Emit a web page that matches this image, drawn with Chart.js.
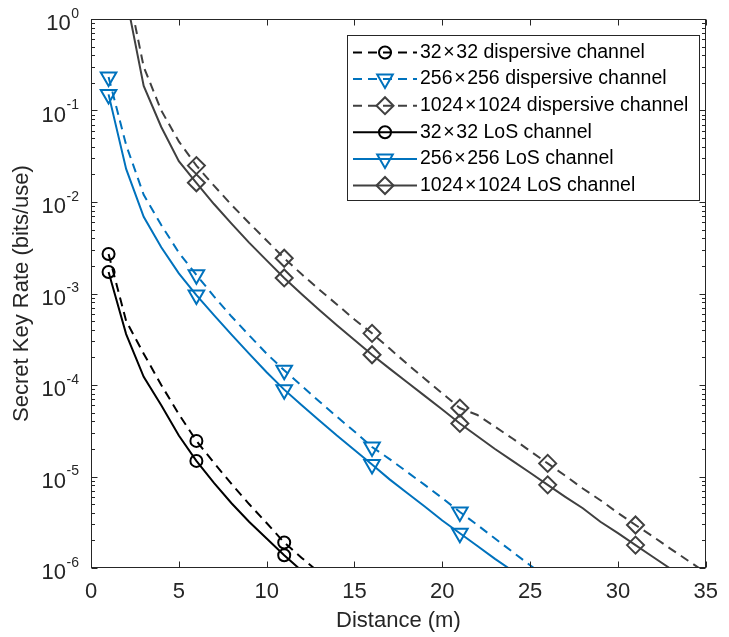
<!DOCTYPE html>
<html lang="en">
<head>
<meta charset="UTF-8">
<title>Secret Key Rate vs Distance</title>
<script src="https://cdn.jsdelivr.net/npm/chart.js@4"></script>
<style>
    body { margin: 0; background: #fff; }
    canvas { display: block; }
</style>
</head>
<body>
<canvas id="myChart" width="729" height="637"></canvas>
<script>
// curves are sampled every 1 m, starting at these distances
var start32 = 1, start256 = 1, start1024 = 2;

var disp32 = [2.7e-3, 5.0e-4, 2.2e-4, 1.0e-4, 4.8e-5, 2.45e-5, 1.41e-5, 8.3e-6, 5.0e-6, 3.1e-6, 1.9e-6, 1.29e-6, 8.9e-7];
var los32 = [1.72e-3, 3.6e-4, 1.23e-4, 6.0e-5, 2.8e-5, 1.48e-5, 8.5e-6, 5.1e-6, 3.2e-6, 2.1e-6, 1.38e-6, 9.3e-7];

var disp256 = [0.232, 0.042, 0.012, 5.6e-3, 2.8e-3, 1.6e-3, 9.3e-4, 5.6e-4, 3.5e-4, 2.2e-4, 1.45e-4, 9.8e-5, 6.6e-5,
    4.5e-5, 3.1e-5, 2.1e-5, 1.55e-5, 1.12e-5, 8.1e-6, 5.8e-6, 4.1e-6, 2.95e-6, 2.1e-6, 1.5e-6, 1.07e-6, 7.8e-7];
var los256 = [0.15, 0.023, 6.9e-3, 3.2e-3, 1.66e-3, 9.6e-4, 5.8e-4, 3.55e-4, 2.2e-4, 1.38e-4, 8.9e-5, 6.0e-5, 4.1e-5,
    2.8e-5, 1.95e-5, 1.35e-5, 9.3e-6, 6.6e-6, 4.7e-6, 3.3e-6, 2.4e-6, 1.74e-6, 1.26e-6, 9.3e-7];

var disp1024 = [2.6, 0.30, 0.10, 0.046, 0.025, 0.0151, 9.3e-3, 5.9e-3, 3.8e-3, 2.43e-3, 1.62e-3, 1.1e-3, 7.6e-4,
    5.2e-4, 3.67e-4, 2.5e-4, 1.7e-4, 1.17e-4, 8.1e-5, 5.6e-5, 4.7e-5, 3.5e-5, 2.6e-5, 1.9e-5, 1.39e-5, 1.02e-5,
    7.4e-6, 5.5e-6, 4.0e-6, 2.95e-6, 2.2e-6, 1.62e-6, 1.2e-6, 8.9e-7];
var los1024 = [1.74, 0.186, 0.066, 0.028, 0.0162, 9.5e-3, 5.8e-3, 3.6e-3, 2.3e-3, 1.48e-3, 9.8e-4, 6.6e-4, 4.5e-4,
    3.1e-4, 2.14e-4, 1.51e-4, 1.07e-4, 7.6e-5, 5.4e-5, 3.8e-5, 2.75e-5, 2.0e-5, 1.48e-5, 1.1e-5, 8.1e-6, 6.0e-6,
    4.5e-6, 3.2e-6, 2.4e-6, 1.78e-6, 1.32e-6, 9.8e-7];

var seriesLabels = ['32\u200a×\u200a32 dispersive channel', '256\u200a×\u200a256 dispersive channel', '1024\u200a×\u200a1024 dispersive channel',
    '32\u200a×\u200a32 LoS channel', '256\u200a×\u200a256 LoS channel', '1024\u200a×\u200a1024 LoS channel'];
var xTicks = [0, 5, 10, 15, 20, 25, 30, 35];
var yExponents = [0, -1, -2, -3, -4, -5, -6];

var TEXT = '#262626';
var FONT = '"Liberation Sans", Arial, Helvetica, sans-serif';

function toPoints(start, vals) {
    return vals.map(function(v, i) { return {x: start + i, y: v}; });
}

function makeSet(label, start, vals, color, style, radius, dashed) {
    return {
        label: label,
        data: toPoints(start, vals),
        borderColor: color,
        backgroundColor: 'rgba(0,0,0,0)',
        borderWidth: 2,
        borderDash: dashed ? [9, 6] : [],
        tension: 0,
        clip: 0,
        pointStyle: style,
        rotation: style === 'triangle' ? 180 : 0,
        pointBorderColor: color,
        pointBackgroundColor: 'rgba(0,0,0,0)',
        pointBorderWidth: 2,
        pointRadius: function(c) { return (c.raw.x - 1) % 5 === 0 ? radius : 0; },
        pointHoverRadius: 0
    };
}

var BLACK = '#000000', BLUE = '#0072BD', GRAY = '#404040';

// LoS first so Chart.js draws them on top
var datasets = [
    makeSet(seriesLabels[3], start32, los32, BLACK, 'circle', 6, false),
    makeSet(seriesLabels[4], start256, los256, BLUE, 'triangle', 9, false),
    makeSet(seriesLabels[5], start1024, los1024, GRAY, 'rectRot', 8.5, false),
    makeSet(seriesLabels[0], start32, disp32, BLACK, 'circle', 6, true),
    makeSet(seriesLabels[1], start256, disp256, BLUE, 'triangle', 9, true),
    makeSet(seriesLabels[2], start1024, disp1024, GRAY, 'rectRot', 8.5, true)
];

var legendOrder = [3, 4, 5, 0, 1, 2];

var framePlugin = {
    id: 'frame',
    afterDatasetsDraw: function(chart) {
        var ctx = chart.ctx;
        var a = chart.chartArea;
        var xs = chart.scales.x, ys = chart.scales.y;
        var L = Math.round(a.left) + 0.5, R = Math.round(a.right) - 0.5;
        var T = Math.round(a.top) + 0.5, B = Math.round(a.bottom) - 0.5;
        ctx.save();
        ctx.strokeStyle = TEXT;
        ctx.lineWidth = 1;
        ctx.strokeRect(L, T, R - L, B - T);

        ctx.beginPath();
        // x ticks, inside, bottom and top
        xTicks.forEach(function(v) {
            var px = Math.round(xs.getPixelForValue(v)) + 0.5;
            ctx.moveTo(px, B); ctx.lineTo(px, B - 6);
            ctx.moveTo(px, T); ctx.lineTo(px, T + 6);
        });
        // y ticks, decades and minor
        yExponents.forEach(function(e) {
            var py = Math.round(ys.getPixelForValue(Math.pow(10, e))) + 0.5;
            ctx.moveTo(L, py); ctx.lineTo(L + 6, py);
            ctx.moveTo(R, py); ctx.lineTo(R - 6, py);
            if (e > -6) {
                for (var m = 2; m <= 9; m++) {
                    var pm = Math.round(ys.getPixelForValue(m * Math.pow(10, e - 1))) + 0.5;
                    ctx.moveTo(L, pm); ctx.lineTo(L + 3.5, pm);
                    ctx.moveTo(R, pm); ctx.lineTo(R - 3.5, pm);
                }
            }
        });
        ctx.stroke();

        // y tick labels 10^n
        ctx.fillStyle = TEXT;
        ctx.textBaseline = 'middle';
        yExponents.forEach(function(e) {
            var py = ys.getPixelForValue(Math.pow(10, e));
            var exp = e === 0 ? '0' : '-' + Math.abs(e);
            ctx.font = '14px ' + FONT;
            var ew = ctx.measureText(exp).width;
            ctx.textAlign = 'left';
            ctx.fillText(exp, 79 - ew, py - 5);
            ctx.font = '22px ' + FONT;
            ctx.textAlign = 'right';
            ctx.fillText('10', 79 - ew - 0.5, py + 5);
        });

        // legend box
        var bx = 347.5, by = 35.5, bw = 352, bh = 165;
        ctx.fillStyle = '#ffffff';
        ctx.fillRect(bx, by, bw, bh);
        ctx.strokeStyle = TEXT;
        ctx.strokeRect(bx, by, bw, bh);
        legendOrder.forEach(function(di, row) {
            var ds = chart.data.datasets[di];
            var cy = 52.5 + row * 26.6;
            ctx.save();
            ctx.strokeStyle = ds.borderColor;
            ctx.lineWidth = 2;
            ctx.setLineDash(ds.borderDash);
            ctx.beginPath();
            ctx.moveTo(353, cy); ctx.lineTo(417, cy);
            ctx.stroke();
            ctx.setLineDash([]);
            ctx.fillStyle = 'rgba(0,0,0,0)';
            var r = ds.pointStyle === 'circle' ? 6 : (ds.pointStyle === 'triangle' ? 9 : 8.5);
            Chart.helpers.drawPoint(ctx, {pointStyle: ds.pointStyle, radius: r, rotation: ds.rotation, borderWidth: 2}, 385, cy);
            ctx.restore();
            ctx.fillStyle = '#000000';
            ctx.font = '19.5px ' + FONT;
            ctx.textAlign = 'left';
            ctx.textBaseline = 'middle';
            ctx.fillText(ds.label, 420, cy);
        });
        ctx.restore();
    }
};

var ctx = document.getElementById('myChart').getContext('2d');
var myChart = new Chart(ctx, {
    type: 'line',
    data: { datasets: datasets },
    plugins: [framePlugin],
    options: {
        responsive: false,
        animation: false,
        devicePixelRatio: 1,
        layout: { padding: { top: 19, right: 13, left: 0, bottom: 0 } },
        plugins: { legend: { display: false }, tooltip: { enabled: false } },
        scales: {
            x: {
                type: 'linear',
                min: 0,
                max: 35,
                afterFit: function(s) { s.height = 69; },
                afterBuildTicks: function(s) { s.ticks = xTicks.map(function(v) { return {value: v}; }); },
                grid: { display: false, drawTicks: false },
                border: { display: false },
                ticks: { color: TEXT, font: { family: FONT, size: 22 }, padding: 11, maxRotation: 0, autoSkip: false },
                title: { display: true, text: 'Distance (m)', color: TEXT, font: { family: FONT, size: 22 }, padding: { top: 0, bottom: 3 } }
            },
            y: {
                type: 'logarithmic',
                min: 1e-6,
                max: 1,
                afterFit: function(s) { s.width = 91; },
                grid: { display: false, drawTicks: false },
                border: { display: false },
                ticks: { display: false },
                title: { display: true, text: 'Secret Key Rate (bits/use)', color: TEXT, font: { family: FONT, size: 22 }, padding: { top: 9, bottom: 0 } }
            }
        }
    }
});
</script>
</body>
</html>
